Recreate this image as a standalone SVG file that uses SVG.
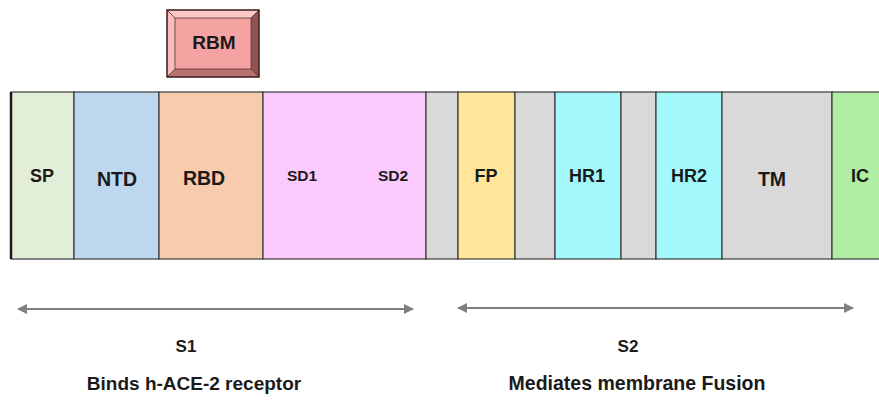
<svg xmlns="http://www.w3.org/2000/svg" width="879" height="404" viewBox="0 0 879 404">
<style>
.seg{stroke:#3a3a3a;stroke-width:1.2}
.t{font-family:"Liberation Sans",Arial,sans-serif;font-weight:bold;fill:#1a1a1a;text-anchor:middle}
.arr{stroke:#808080;stroke-width:2;fill:none;marker-start:url(#ah);marker-end:url(#ah)}
</style>
<defs>
<marker id="ah" viewBox="0 0 10 10" refX="9" refY="5" markerWidth="5" markerHeight="5" orient="auto-start-reverse" markerUnits="strokeWidth">
<path d="M0,0 L10,5 L0,10 z" fill="#808080"/>
</marker>
</defs>
<rect width="879" height="404" fill="#ffffff"/>
<g id="SP"><rect class="seg" x="11" y="92" width="63" height="167" fill="#E3EED9"/><text class="t" x="42" y="182" font-size="18">SP</text></g>
<g id="NTD"><rect class="seg" x="74" y="92" width="85" height="167" fill="#BDD7EE"/><text class="t" x="117" y="186" font-size="19.5">NTD</text></g>
<g id="RBD"><rect class="seg" x="159" y="92" width="104" height="167" fill="#F8CBAD"/><text class="t" x="204" y="185" font-size="19.5">RBD</text></g>
<g id="SD"><rect class="seg" x="263" y="92" width="163" height="167" fill="#FCC9FC"/><text class="t" x="302" y="181" font-size="15.5">SD1</text><text class="t" x="393" y="181" font-size="15.5">SD2</text></g>
<g id="gap1"><rect class="seg" x="426" y="92" width="32" height="167" fill="#D9D9D9"/></g>
<g id="FP"><rect class="seg" x="458" y="92" width="57" height="167" fill="#FFE699"/><text class="t" x="486" y="182" font-size="18">FP</text></g>
<g id="gap2"><rect class="seg" x="515" y="92" width="40" height="167" fill="#D9D9D9"/></g>
<g id="HR1"><rect class="seg" x="555" y="92" width="66" height="167" fill="#A3F8FB"/><text class="t" x="587" y="182" font-size="18">HR1</text></g>
<g id="gap3"><rect class="seg" x="621" y="92" width="35" height="167" fill="#D9D9D9"/></g>
<g id="HR2"><rect class="seg" x="656" y="92" width="66" height="167" fill="#A3F8FB"/><text class="t" x="689" y="182" font-size="18">HR2</text></g>
<g id="TM"><rect class="seg" x="722" y="92" width="110" height="167" fill="#D9D9D9"/><text class="t" x="772" y="186" font-size="19.5">TM</text></g>
<g id="IC"><rect class="seg" x="832" y="92" width="60" height="167" fill="#AEEDA2"/><text class="t" x="860" y="182" font-size="18">IC</text></g>
<line x1="11" y1="92" x2="11" y2="259" stroke="#1a1a1a" stroke-width="2.5"/>
<g id="RBM">
<rect x="167" y="10" width="92" height="67" fill="#F5A3A2"/>
<polygon points="167,10 259,10 251,18 175,18" fill="#F9C8C7"/>
<polygon points="167,10 175,18 175,69 167,77" fill="#F7BDBC"/>
<polygon points="259,10 259,77 251,69 251,18" fill="#8E5354"/>
<polygon points="167,77 259,77 251,69 175,69" fill="#B87271"/>
<path d="M167,10 L175,18 M259,10 L251,18 M167,77 L175,69 M259,77 L251,69 M175,18 H251 V69 H175 Z" fill="none" stroke="#5a3030" stroke-width="0.8"/>
<rect x="167" y="10" width="92" height="67" fill="none" stroke="#3b1a1a" stroke-width="1.5"/>
<text class="t" x="214" y="49" font-size="19" fill="#2a0f0f">RBM</text>
</g>
<g id="connectors">
<line class="arr" x1="18" y1="309" x2="413" y2="309"/>
<line class="arr" x1="458" y1="308" x2="853" y2="308"/>
</g>
<g id="labels">
<text class="t" x="186" y="352" font-size="17">S1</text>
<text class="t" x="194" y="390" font-size="19">Binds h-ACE-2 receptor</text>
<text class="t" x="628" y="352" font-size="17">S2</text>
<text class="t" x="637" y="390" font-size="19.5">Mediates membrane Fusion</text>
</g>
</svg>
